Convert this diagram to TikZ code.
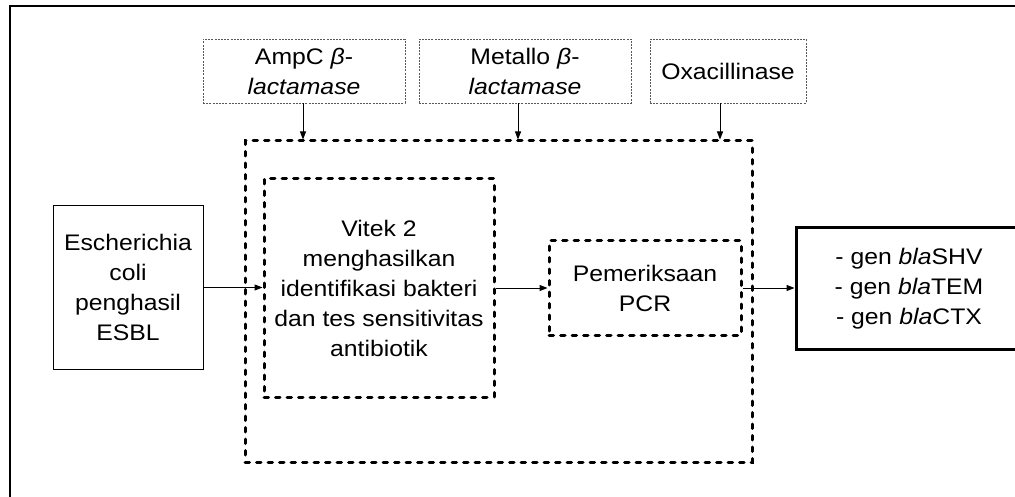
\documentclass[tikz,border=0pt]{standalone}
\usepackage{fontspec}
\setmainfont{Liberation Sans}[FakeStretch=1.1]
\usetikzlibrary{arrows.meta,positioning}
\tikzset{
  txt/.style={align=center, inner sep=0pt, font=\fontsize{22.5}{30}\selectfont},
  plainbox/.style={txt, draw, line width=1pt},
  topbox/.style={txt, draw=black!65, line width=0.9pt, dash pattern=on 2pt off 1.2pt},
  dotbox/.style={txt, draw, line width=3pt, line cap=round, dash pattern=on 4.5pt off 7pt},
  outbox/.style={txt, draw, line width=3pt},
  arr/.style={-{Triangle[length=8pt,width=6pt]}, line width=1pt}
}
\begin{document}
\begin{tikzpicture}[x=1pt,y=-1pt]
  \useasboundingbox (0,0) rectangle (1015,497);
  \clip (0,0) rectangle (1015,497);
  \fill[white] (0,0) rectangle (1015,497);

  % frame
  \draw[line width=2pt] (1020,6) -- (10,6) -- (10,500);

  % enzymes on top
  \node[topbox, minimum width=202pt, minimum height=64pt] (ampc) at (304,71) {AmpC \textit{β}-\\\textit{lactamase}};
  \node[topbox, minimum width=212pt, minimum height=64pt] (metallo) at (525,71) {Metallo \textit{β}-\\\textit{lactamase}};
  \node[topbox, minimum width=156pt, minimum height=64pt] (oxa) at (728,71) {Oxacillinase};

  % big frame round the tests
  \node[dotbox, minimum width=507pt, minimum height=321pt] (tests) at (498.5,301.5) {};

  \node[plainbox, minimum width=150pt, minimum height=163pt] (ecoli) at (128,287.5) {Escherichia\\coli\\penghasil\\ESBL};
  \node[dotbox, minimum width=230pt, minimum height=218pt] (vitek) at (379,288) {Vitek 2\\menghasilkan\\identifikasi bakteri\\dan tes sensitivitas\\antibiotik};
  \node[dotbox, minimum width=192pt, minimum height=94pt] (pcr) at (645,288) {Pemeriksaan\\PCR};
  \node[outbox, minimum width=226pt, minimum height=121pt] (gen) at (909,288.5) {- gen \textit{bla}SHV\\- gen \textit{bla}TEM\\- gen \textit{bla}CTX};

  % arrows
  \draw[arr] ([xshift=-1pt]ampc.south) -- ([xshift=-1pt]ampc.south |- tests.north);
  \draw[arr] ([xshift=-7pt]metallo.south) -- ([xshift=-7pt]metallo.south |- tests.north);
  \draw[arr] ([xshift=-8pt]oxa.south) -- ([xshift=-8pt]oxa.south |- tests.north);

  \draw[arr] (ecoli.east) -- (ecoli.east -| vitek.west);
  \draw[arr] (vitek.east) -- (vitek.east -| pcr.west);
  \draw[arr] (pcr.east) -- (pcr.east -| gen.west);
\end{tikzpicture}
\end{document}
